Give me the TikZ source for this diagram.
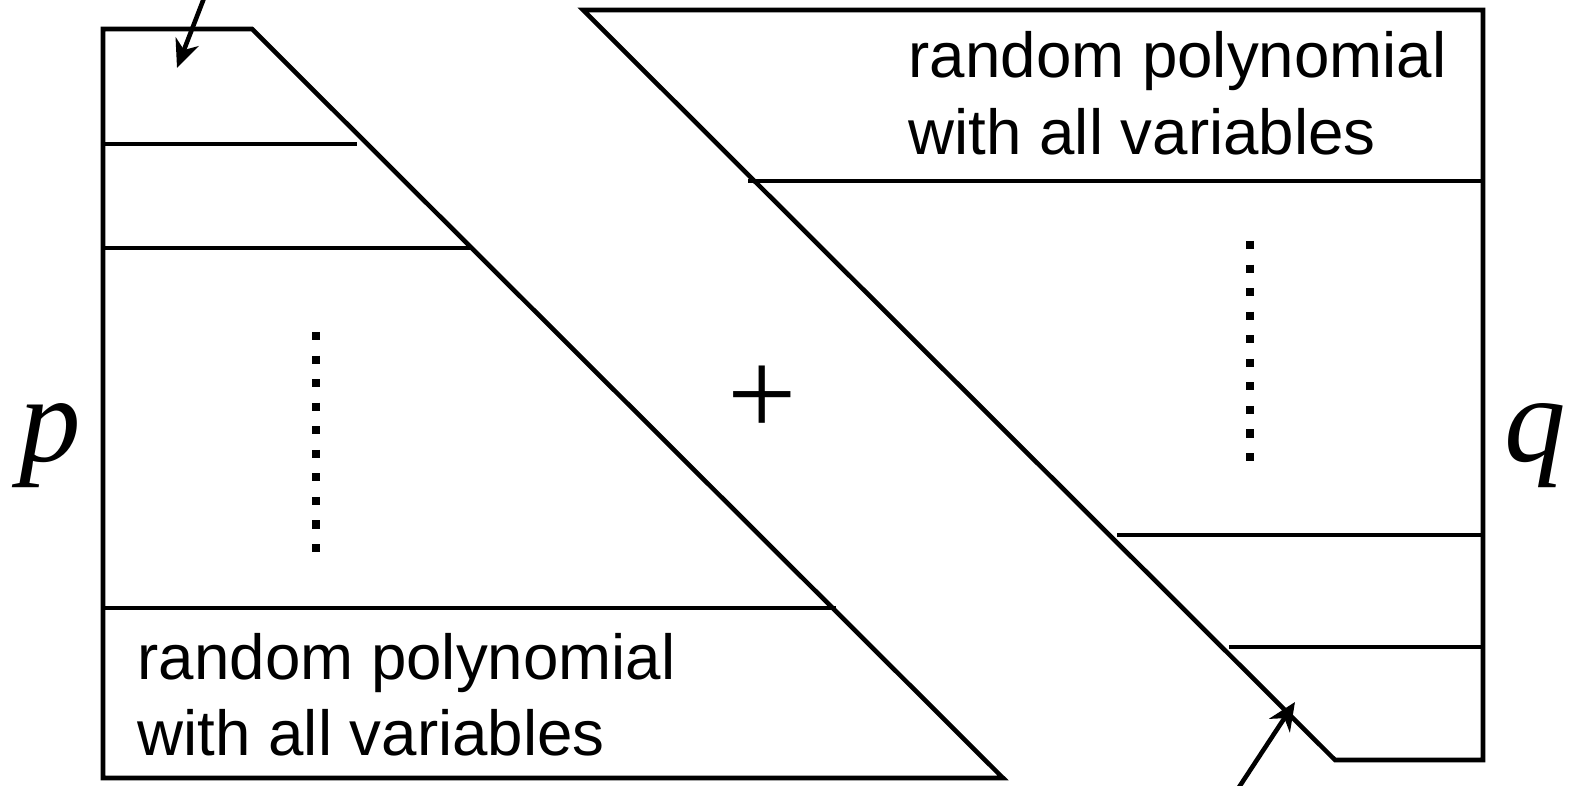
\documentclass[tikz,border=0pt]{standalone}
\usepackage{fontspec}
\setmainfont{Liberation Sans}
\newfontfamily\timesfont{Liberation Serif}
\usetikzlibrary{arrows.meta}
\begin{document}
\begin{tikzpicture}[x=0.01cm, y=-0.01cm,
  edge/.style={line width=1.3pt},
  ptr/.style={line width=1.3pt, -{Stealth[length=8pt,width=7pt,inset=2.5pt]}},
  dotcol/.style={line width=2.3pt, dash pattern=on 2.3pt off 4.4pt},
  label/.style={font=\fontsize{18.1pt}{22pt}\selectfont, inner sep=0pt, anchor=base west},
  sym/.style={font=\timesfont\fontsize{35pt}{40pt}\selectfont, inner sep=0pt, anchor=base},
]
\path[use as bounding box, clip] (0,0) rectangle (1576,786);

% left block p
\draw[edge] (103,778) -- (103,29) -- (252,29) -- (1003,778) -- cycle;
\draw[edge] (103,144) -- (357,144);
\draw[edge] (103,248) -- (471,248);
\draw[edge] (103,608) -- (836,608);
\draw[dotcol] (316,332) -- (316,553);

% right block q
\draw[edge] (583,10) -- (1483,10) -- (1483,760) -- (1335,760) -- cycle;
\draw[edge] (748,181) -- (1483,181);
\draw[edge] (1117,535) -- (1483,535);
\draw[edge] (1229,647) -- (1483,647);
\draw[dotcol] (1250,241) -- (1250,462);

% labels
\node[label] (tl1) at (908,78) {random polynomial};
\node[label] (tl2) at (908,155) {with all variables};
\node[label] (bl1) at (137,680) {random polynomial};
\node[label] (bl2) at (137,756) {with all variables};

\node[sym] (p) at (50,462) {\itshape p};
\node[sym] (q) at (1535,462) {\itshape q};
\node[sym] (plus) at (762,436) {+};

% pointers
\coordinate (s1) at (211,-20);
\coordinate (e1) at (177,68);
\coordinate (s2) at (1224,810);
\coordinate (e2) at (1295,702);
\draw[ptr] (s1) -- (e1);
\draw[ptr] (s2) -- (e2);
\end{tikzpicture}
\end{document}
